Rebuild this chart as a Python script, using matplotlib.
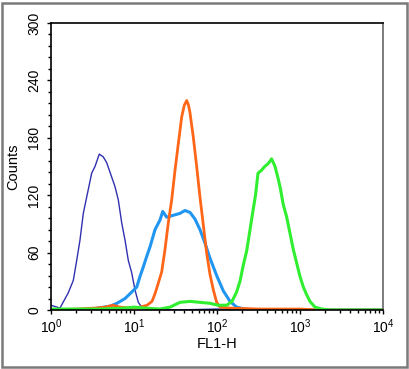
import numpy as np
import matplotlib.pyplot as plt
from matplotlib.patches import Rectangle
from matplotlib.ticker import LogLocator, NullFormatter, MultipleLocator

plt.rcParams['font.family'] = ['Liberation Sans', 'DejaVu Sans']
plt.rcParams['mathtext.fontset'] = 'custom'
plt.rcParams['mathtext.rm'] = 'Liberation Sans'
plt.rcParams['mathtext.it'] = 'Liberation Sans'

# FL1-H positions are stored as log10(FL1-H)
navy_log = [0.0, 0.108, 0.208, 0.269, 0.310, 0.349, 0.389, 0.430, 0.490, 0.530,
            0.582, 0.630, 0.671, 0.711, 0.771, 0.811, 0.852, 0.892, 0.931, 0.972,
            1.012, 1.052, 1.093, 1.145, 1.5, 2.0, 2.5, 4.0]
navy_counts = [5, 2, 18, 31, 52, 73, 101, 118, 143, 150,
               163, 160, 154, 144, 129, 115, 91, 73, 52, 39,
               21, 8, 3, 1, 0, 1, 0, 0]

blue_log = [0.0, 0.45, 0.566, 0.711, 0.795, 0.892, 0.952, 1.033, 1.072, 1.112,
            1.153, 1.193, 1.253, 1.313, 1.346, 1.394, 1.473, 1.554, 1.614, 1.675,
            1.735, 1.795, 1.855, 1.916, 1.996, 2.076, 2.157, 2.237, 2.337, 2.458, 4.0]
blue_counts = [0, 0, 2, 4, 7, 12, 17, 24, 35, 45,
               56, 66, 84, 94, 103, 97, 99, 101, 104, 102,
               95, 84, 70, 54, 36, 20, 9, 3, 1, 0, 0]

orange_log = [0.0, 0.313, 0.530, 0.651, 0.747, 0.831, 0.952, 1.072, 1.157, 1.217,
              1.253, 1.289, 1.334, 1.373, 1.413, 1.454, 1.494, 1.534, 1.575, 1.606,
              1.635, 1.657, 1.675, 1.714, 1.755, 1.795, 1.835, 1.876, 1.916, 1.956,
              1.996, 2.036, 2.157, 2.518, 3.0, 3.24, 4.0]
orange_counts = [0, 1, 2, 3, 5, 3, 2, 3, 5, 9,
                 17, 27, 40, 63, 91, 115, 146, 174, 202, 214,
                 219, 214, 206, 181, 150, 118, 89, 59, 37, 21,
                 8, 3, 2, 1, 1, 0, 0]

green_log = [0.0, 0.59, 0.892, 1.0, 1.133, 1.313, 1.434, 1.554, 1.675, 1.795,
             1.916, 2.012, 2.117, 2.181, 2.237, 2.277, 2.317, 2.358, 2.398, 2.434,
             2.464, 2.494, 2.535, 2.575, 2.616, 2.643, 2.657, 2.679, 2.699, 2.729,
             2.759, 2.799, 2.840, 2.880, 2.920, 2.960, 3.0, 3.040, 3.080, 3.120,
             3.181, 3.262, 3.36, 4.0]
green_counts = [1, 1, 2, 3, 2, 1, 3, 8, 9, 8,
                7, 5, 5, 9, 19, 30, 47, 62, 84, 104,
                120, 143, 146, 150, 153, 156, 158, 154, 150, 140,
                129, 110, 97, 80, 63, 49, 35, 24, 16, 9,
                3, 1, 0, 0]

fig = plt.figure(figsize=(4.1, 3.69), dpi=100)
ax = fig.add_axes([51 / 410, 1 - 310 / 369, 332 / 410, 287 / 369])

ax.plot(10 ** np.array(navy_log), navy_counts, color='#3030b0', lw=1.0)
ax.plot(10 ** np.array(blue_log), blue_counts, color='#2196f0', lw=2.2)
ax.plot(10 ** np.array(orange_log), orange_counts, color='#ff6618', lw=2.0)
ax.plot(10 ** np.array(green_log), green_counts, color='#30ee30', lw=2.2)

ax.set_xscale('log')
ax.set_xlim(1, 1e4)
ax.set_ylim(0, 300)
ax.set_yticks([0, 60, 120, 180, 240, 300])
ax.yaxis.set_minor_locator(MultipleLocator(12))
ax.xaxis.set_minor_locator(LogLocator(base=10, subs=np.arange(2, 10)))
ax.xaxis.set_minor_formatter(NullFormatter())

ax.tick_params(axis='both', which='major', direction='out', length=3, width=1,
               labelsize=10, color='black')
ax.tick_params(axis='both', which='minor', direction='out', length=2, width=1,
               color='black')
ax.tick_params(axis='y', which='major', pad=4)
ax.tick_params(axis='x', which='major', pad=2)
for lab in ax.get_yticklabels():
    lab.set_rotation(90)
    lab.set_va('center')

for sp in ax.spines.values():
    sp.set_linewidth(1.2)
    sp.set_color('black')
ax.spines['right'].set_color('#666666')

ax.set_xlabel('FL1-H', fontsize=10.5, labelpad=1)
ax.set_ylabel('Counts', fontsize=10.5, labelpad=5)

# grey frame around the whole picture
fig.patches.append(Rectangle((2.5 / 410, 2.5 / 369), 405 / 410, 364 / 369,
                             transform=fig.transFigure, fill=False,
                             edgecolor='#7a7a7a', lw=1.8))

fig.savefig('out.png', dpi=100)
